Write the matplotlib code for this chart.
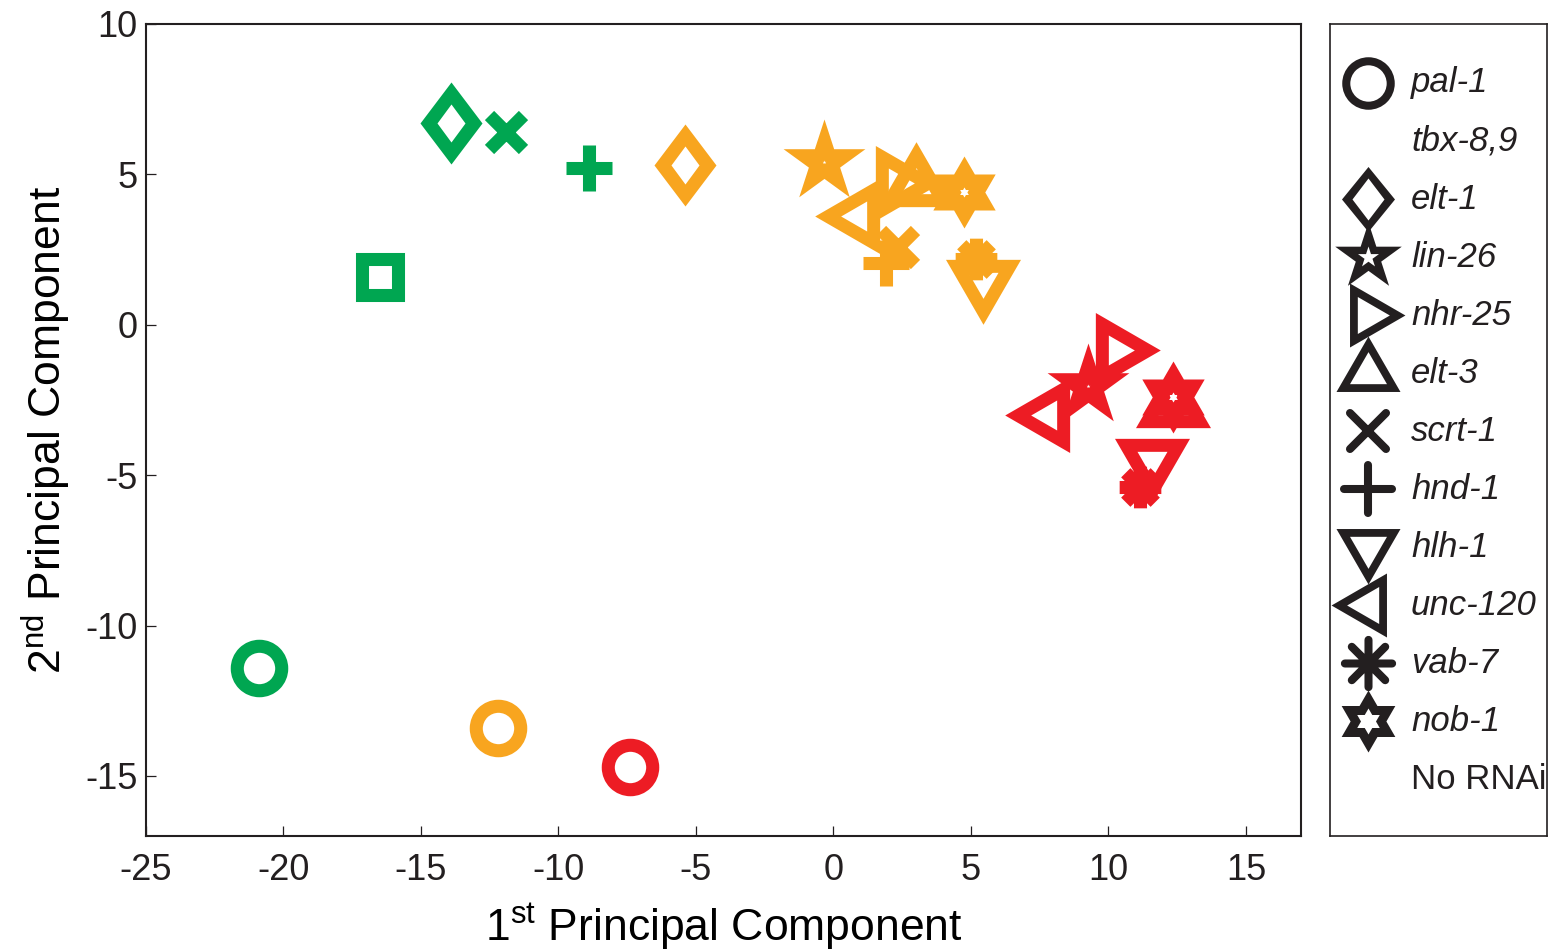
import numpy as np
import matplotlib
matplotlib.use('Agg')
import matplotlib.pyplot as plt
from matplotlib.path import Path
from matplotlib.markers import MarkerStyle

nan = np.nan

genes = ['pal-1', 'tbx-8,9', 'elt-1', 'lin-26', 'nhr-25', 'elt-3', 'scrt-1',
         'hnd-1', 'hlh-1', 'unc-120', 'vab-7', 'nob-1', 'No RNAi']

# 1st / 2nd principal component per gene, one pair of lists per colour group
pc1_green = [-20.9, -16.5, -13.9, nan, nan, nan, -11.9, -8.9, nan, nan, nan, nan, nan]
pc2_green = [-11.4, 1.6, 6.7, nan, nan, nan, 6.4, 5.2, nan, nan, nan, nan, nan]

pc1_orange = [-12.2, nan, -5.4, -0.35, 2.3, 3.0, 2.35, 1.9, 5.45, 0.9, 5.2, 4.75, nan]
pc2_orange = [-13.4, nan, 5.3, 5.4, 4.7, 4.65, 2.6, 2.05, 1.45, 3.6, 2.2, 4.4, nan]

pc1_red = [-7.4, nan, nan, 9.25, 10.3, 12.35, nan, nan, 11.6, 7.8, 11.15, 12.35, nan]
pc2_red = [-14.7, nan, nan, -2.05, -0.85, -2.7, nan, nan, -4.5, -3.0, -5.4, -2.4, nan]

groups = [(pc1_green, pc2_green, '#00a651'),
          (pc1_orange, pc2_orange, '#f8a51f'),
          (pc1_red, pc2_red, '#ed1c24')]

ink = '#231f20'
PX = 0.72  # points per pixel at 100 dpi


# ---- marker shapes (outlines built as filled rings, sizes in pixels) ----
def ring(outer, inner):
    outer = np.asarray(outer, float)
    inner = np.asarray(inner, float)[::-1]
    verts = np.vstack([outer, outer[:1], inner, inner[:1]])
    codes = ([Path.MOVETO] + [Path.LINETO] * (len(outer) - 1) + [Path.CLOSEPOLY] +
             [Path.MOVETO] + [Path.LINETO] * (len(inner) - 1) + [Path.CLOSEPOLY])
    return Path(verts, codes)


def tri(side, deg):
    v = np.array([[0, 1 / np.sqrt(3)], [-0.5, -0.5 / np.sqrt(3)],
                  [0.5, -0.5 / np.sqrt(3)]]) * side
    r = np.deg2rad(deg)
    rot = np.array([[np.cos(r), -np.sin(r)], [np.sin(r), np.cos(r)]])
    return v @ rot.T


def rhomb(a, b):
    return [[0, b], [-a, 0], [0, -b], [a, 0]]


def star(R, n, inner_ratio):
    k = np.arange(2 * n)
    ang = np.pi / 2 + k * np.pi / n
    rad = np.where(k % 2 == 0, R, R * inner_ratio)
    return np.column_stack([rad * np.cos(ang), rad * np.sin(ang)])


def penta(R):
    return star(R, 5, 0.381966)


def hexa(R):
    return star(R, 6, 1 / np.sqrt(3))


def ring_marker(outer, inner):
    p = ring(outer, inner)
    size = 2 * np.abs(np.asarray(outer)).max() * PX
    return (p, size, True)


ast_v, ast_c = [], []
for a in np.deg2rad([0, 45, 90, 135]):
    ast_v += [[np.cos(a), np.sin(a)], [-np.cos(a), -np.sin(a)]]
    ast_c += [Path.MOVETO, Path.LINETO]
asterisk = Path(ast_v, ast_c)


def marker_set(tri_out, tri_in, dia_out, dia_in, star_out, star_in,
               hex_out, hex_in, legend):
    return {
        'pal-1': ('o', 32, False),
        'tbx-8,9': ('s', 26, False),
        'elt-1': ring_marker(rhomb(*dia_out), rhomb(*dia_in)),
        'lin-26': ring_marker(penta(star_out), penta(star_in)),
        'nhr-25': ring_marker(tri(tri_out, -90), tri(tri_in, -90)),
        'elt-3': ring_marker(tri(tri_out, 0), tri(tri_in, 0)),
        'scrt-1': ('x', 26 if legend else 24, False),
        'hnd-1': ('+', 34 if legend else 33, False),
        'hlh-1': ring_marker(tri(tri_out, 180), tri(tri_in, 180)),
        'unc-120': ring_marker(tri(tri_out, 90), tri(tri_in, 90)),
        'vab-7': (asterisk, 34 if legend else 30, False),
        'nob-1': ring_marker(hexa(hex_out), hexa(hex_in)),
    }


plot_markers = marker_set(75, 30, (31, 41), (14, 19), 43, 2, 36, 5, False)
legend_markers = marker_set(64, 37, (26.5, 32.5), (16, 21), 35, 11, 31, 13, True)


def draw(axis, x, y, spec, col, mew, cap='butt', **kw):
    m, s, filled = spec
    if filled:
        axis.plot(x, y, linestyle='none', marker=MarkerStyle(m), markersize=s,
                  markerfacecolor=col, markeredgecolor='none',
                  markeredgewidth=0, **kw)
    else:
        axis.plot(x, y, linestyle='none',
                  marker=MarkerStyle(m, joinstyle='miter', capstyle=cap),
                  markersize=s, markerfacecolor='none', markeredgecolor=col,
                  markeredgewidth=mew, **kw)


plt.rcParams['font.family'] = ['Liberation Sans', 'DejaVu Sans']
plt.rcParams['mathtext.fontset'] = 'custom'
plt.rcParams['mathtext.rm'] = 'Liberation Sans'
plt.rcParams['axes.unicode_minus'] = False
plt.rcParams['text.color'] = ink

fig = plt.figure(figsize=(15.58, 9.52), dpi=100)
ax = fig.add_axes([0.0937, 0.1218, 0.7413, 0.853])

for pc1, pc2, col in groups:
    for g, x, y in zip(genes, pc1, pc2):
        if np.isnan(x) or g not in plot_markers:
            continue
        draw(ax, x, y, plot_markers[g], col, 9.4)

ax.set_xlim(-25, 17)
ax.set_ylim(-17, 10)
ax.set_xticks(np.arange(-25, 16, 5))
ax.set_yticks(np.arange(-15, 11, 5))
ax.tick_params(direction='in', length=7, width=0.9, labelsize=26, colors=ink,
               top=False, right=False)
ax.tick_params(axis='x', pad=12)
ax.tick_params(axis='y', pad=6)
for sp in ax.spines.values():
    sp.set_linewidth(1.5)
    sp.set_color(ink)
ax.set_xlabel('1$^{\\rm st}$ Principal Component', fontsize=32, labelpad=10)
ax.set_ylabel('2$^{\\rm nd}$ Principal Component', fontsize=32, labelpad=9)

# legend panel
lax = fig.add_axes([0.8537, 0.1218, 0.1393, 0.853])
lax.set_xlim(0, 1)
lax.set_ylim(12.98, -1.017)
lax.set_xticks([])
lax.set_yticks([])
for sp in lax.spines.values():
    sp.set_linewidth(1.2)
    sp.set_color(ink)
for i, g in enumerate(genes):
    if g in legend_markers and g != 'tbx-8,9':
        draw(lax, 0.175, i, legend_markers[g], ink, 5.8, cap='round',
             clip_on=False)
    style = 'normal' if g == 'No RNAi' else 'italic'
    lax.text(0.373, i, g, fontsize=25, fontstyle=style, va='center', ha='left')

fig.savefig('out.png', dpi=100)
